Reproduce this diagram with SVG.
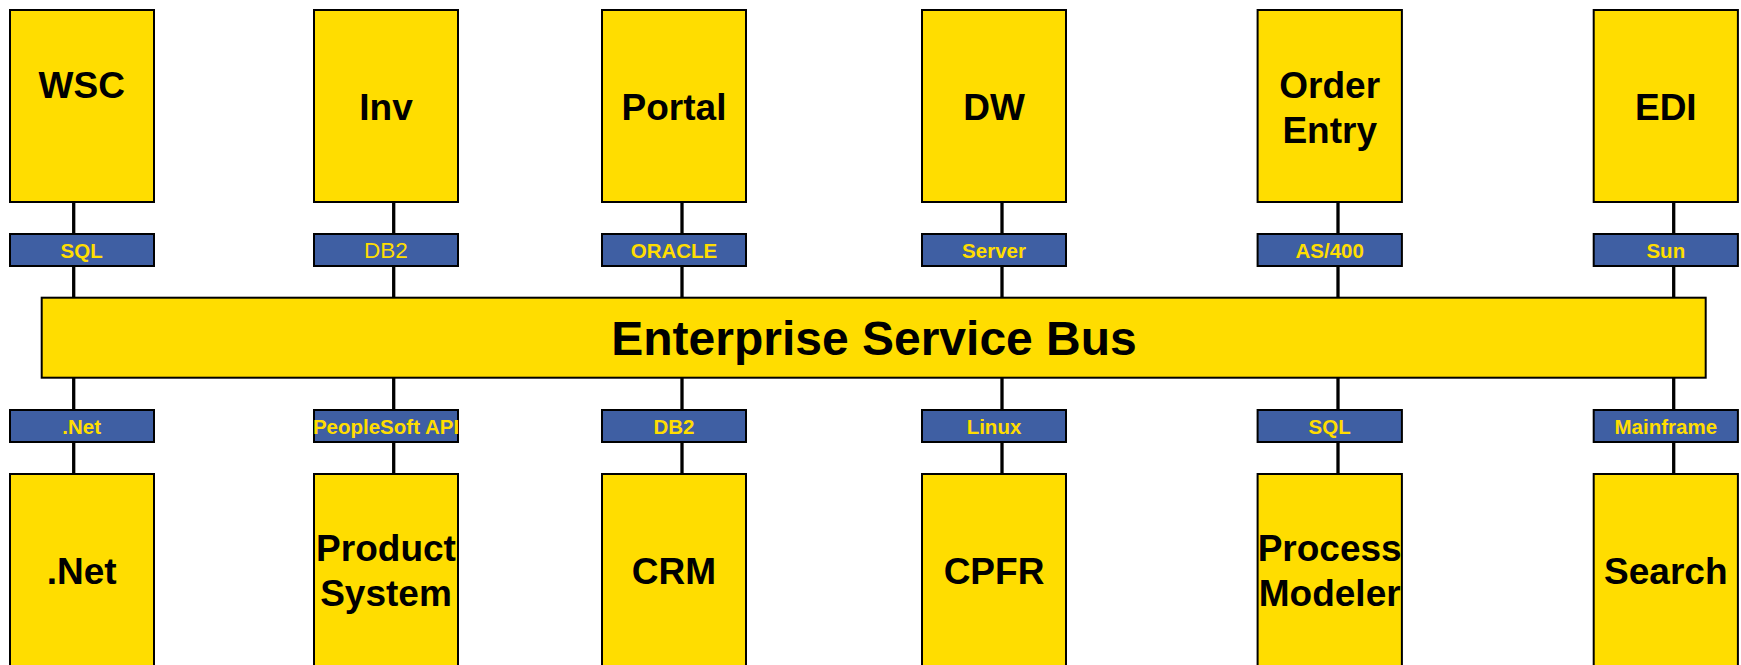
<svg xmlns="http://www.w3.org/2000/svg" width="1741" height="665" viewBox="0 0 1741 665">
<style>
.sys{fill:#FFDD00;stroke:#000;stroke-width:2}
.lab{fill:#3F5FA3;stroke:#000;stroke-width:2}
.bus{fill:#FFDD00;stroke:#000;stroke-width:2}
.t{font-family:"Liberation Sans",Arial,sans-serif;font-weight:bold;font-size:37px;fill:#000;text-anchor:middle}
.lt{font-family:"Liberation Sans",Arial,sans-serif;font-weight:bold;font-size:20.5px;fill:#FFDD00;text-anchor:middle}
.ltr{font-family:"Liberation Sans",Arial,sans-serif;font-weight:normal;font-size:22.5px;fill:#FFDD00;text-anchor:middle}
.bt{font-family:"Liberation Sans",Arial,sans-serif;font-weight:bold;font-size:48px;fill:#000;text-anchor:middle}
.c{stroke:#000;stroke-width:3.3;fill:none}
</style>
<rect width="1741" height="665" fill="#fff"/>
<g id="connectors">
<line class="c" x1="73.7" y1="202" x2="73.7" y2="298"/>
<line class="c" x1="393.7" y1="202" x2="393.7" y2="298"/>
<line class="c" x1="682" y1="202" x2="682" y2="298"/>
<line class="c" x1="1002" y1="202" x2="1002" y2="298"/>
<line class="c" x1="1338" y1="202" x2="1338" y2="298"/>
<line class="c" x1="1673.7" y1="202" x2="1673.7" y2="298"/>
<line class="c" x1="73.7" y1="378" x2="73.7" y2="474"/>
<line class="c" x1="393.7" y1="378" x2="393.7" y2="474"/>
<line class="c" x1="682" y1="378" x2="682" y2="474"/>
<line class="c" x1="1002" y1="378" x2="1002" y2="474"/>
<line class="c" x1="1338" y1="378" x2="1338" y2="474"/>
<line class="c" x1="1673.7" y1="378" x2="1673.7" y2="474"/>
</g>
<g id="bus"><rect class="bus" x="41.7" y="297.7" width="1664" height="80"/><text class="bt" x="874" y="355">Enterprise Service Bus</text></g>
<g id="wsc"><rect class="sys" x="10" y="10" width="144" height="192"/><text class="t" x="81.7" y="97.5">WSC</text></g>
<g id="inv"><rect class="sys" x="314" y="10" width="144" height="192"/><text class="t" x="386" y="119.5">Inv</text></g>
<g id="portal"><rect class="sys" x="602" y="10" width="144" height="192"/><text class="t" x="674" y="119.5">Portal</text></g>
<g id="dw"><rect class="sys" x="922" y="10" width="144" height="192"/><text class="t" x="994" y="119.5">DW</text></g>
<g id="orderentry"><rect class="sys" x="1257.6" y="10" width="144.3" height="192"/><text class="t" x="1329.7" y="97.5">Order</text><text class="t" x="1329.7" y="142.5">Entry</text></g>
<g id="edi"><rect class="sys" x="1593.7" y="10" width="144.2" height="192"/><text class="t" x="1665.8" y="119.5">EDI</text></g>
<g id="lab-sql-top"><rect class="lab" x="10" y="234" width="144" height="32"/><text class="lt" x="81.7" y="257.5">SQL</text></g>
<g id="lab-db2-top"><rect class="lab" x="314" y="234" width="144" height="32"/><text class="ltr" x="386" y="258">DB2</text></g>
<g id="lab-oracle"><rect class="lab" x="602" y="234" width="144" height="32"/><text class="lt" x="674" y="257.5">ORACLE</text></g>
<g id="lab-server"><rect class="lab" x="922" y="234" width="144" height="32"/><text class="lt" x="994" y="257.5">Server</text></g>
<g id="lab-as400"><rect class="lab" x="1257.6" y="234" width="144.3" height="32"/><text class="lt" x="1329.7" y="257.5">AS/400</text></g>
<g id="lab-sun"><rect class="lab" x="1593.7" y="234" width="144.2" height="32"/><text class="lt" x="1665.8" y="257.5">Sun</text></g>
<g id="lab-net"><rect class="lab" x="10" y="410" width="144" height="32"/><text class="lt" x="81.7" y="433.5">.Net</text></g>
<g id="lab-peoplesoft"><rect class="lab" x="314" y="410" width="144" height="32"/><text class="lt" x="386" y="433.5">PeopleSoft API</text></g>
<g id="lab-db2-bottom"><rect class="lab" x="602" y="410" width="144" height="32"/><text class="lt" x="674" y="433.5">DB2</text></g>
<g id="lab-linux"><rect class="lab" x="922" y="410" width="144" height="32"/><text class="lt" x="994" y="433.5">Linux</text></g>
<g id="lab-sql-bottom"><rect class="lab" x="1257.6" y="410" width="144.3" height="32"/><text class="lt" x="1329.7" y="433.5">SQL</text></g>
<g id="lab-mainframe"><rect class="lab" x="1593.7" y="410" width="144.2" height="32"/><text class="lt" x="1665.8" y="433.5">Mainframe</text></g>
<g id="dotnet"><rect class="sys" x="10" y="474" width="144" height="200"/><text class="t" x="81.7" y="583.5">.Net</text></g>
<g id="product"><rect class="sys" x="314" y="474" width="144" height="200"/><text class="t" x="386" y="561">Product</text><text class="t" x="386" y="605.5">System</text></g>
<g id="crm"><rect class="sys" x="602" y="474" width="144" height="200"/><text class="t" x="674" y="583.5">CRM</text></g>
<g id="cpfr"><rect class="sys" x="922" y="474" width="144" height="200"/><text class="t" x="994" y="583.5">CPFR</text></g>
<g id="processmodeler"><rect class="sys" x="1257.6" y="474" width="144.3" height="200"/><text class="t" x="1329.7" y="561">Process</text><text class="t" x="1329.7" y="606">Modeler</text></g>
<g id="search"><rect class="sys" x="1593.7" y="474" width="144.2" height="200"/><text class="t" x="1665.8" y="584">Search</text></g>
</svg>
